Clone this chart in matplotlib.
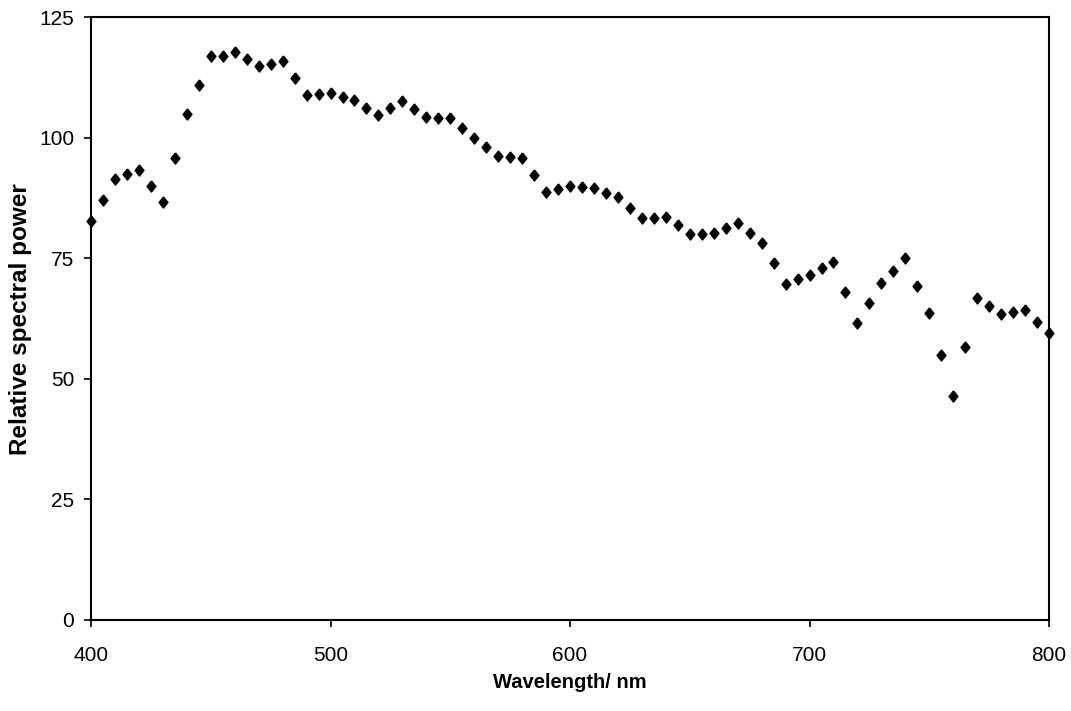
import matplotlib.pyplot as plt
import numpy as np

plt.rcParams['font.family'] = ['Liberation Sans', 'DejaVu Sans']

wavelength = list(range(400, 805, 5))
power = [82.75, 87.12, 91.49, 92.46, 93.43, 90.06, 86.68, 95.77, 104.87, 110.94,
         117.01, 117.09, 117.81, 116.34, 114.86, 115.39, 115.92, 112.37, 108.81, 109.08,
         109.35, 108.58, 107.80, 106.30, 104.79, 106.24, 107.69, 106.05, 104.41, 104.23,
         104.05, 102.02, 100.00, 98.17, 96.33, 96.06, 95.79, 92.24, 88.69, 89.35,
         90.01, 89.80, 89.60, 88.65, 87.70, 85.49, 83.29, 83.49, 83.70, 81.86,
         80.03, 80.12, 80.21, 81.25, 82.28, 80.28, 78.28, 74.00, 69.72, 70.67,
         71.61, 72.98, 74.35, 67.98, 61.60, 65.74, 69.89, 72.49, 75.09, 69.34,
         63.59, 55.01, 46.42, 56.61, 66.81, 65.09, 63.38, 63.84, 64.30, 61.88,
         59.45]
x_ticks = [400, 500, 600, 700, 800]
y_ticks = [0, 25, 50, 75, 100, 125]

# slightly tall diamond
diamond = [(0, 1), (0.8, 0), (0, -1), (-0.8, 0), (0, 1)]

fig = plt.figure(figsize=(10.71, 7.11), dpi=100)
ax = fig.add_axes([0.085, 0.128, 0.8945, 0.8475])

ax.plot(wavelength, power, linestyle='none', marker=diamond, markersize=8,
        color='black', clip_on=False)

ax.set_xlim(400, 800)
ax.set_ylim(0, 125)
ax.set_xticks(x_ticks)
ax.set_yticks(y_ticks)
ax.tick_params(direction='out', length=5, width=1.2, labelsize=15)
ax.tick_params(axis='x', pad=14)
ax.tick_params(axis='y', pad=7)
for side in ax.spines.values():
    side.set_linewidth(1.5)

ax.set_xlabel('Wavelength/ nm', fontsize=14.5, fontweight='bold', va='center')
ax.set_ylabel('Relative spectral power', fontsize=17.5, fontweight='bold', va='center')
ax.xaxis.set_label_coords(0.5, -0.103)
ax.yaxis.set_label_coords(-0.074, 0.5)

fig.savefig('out.png', dpi=100)
